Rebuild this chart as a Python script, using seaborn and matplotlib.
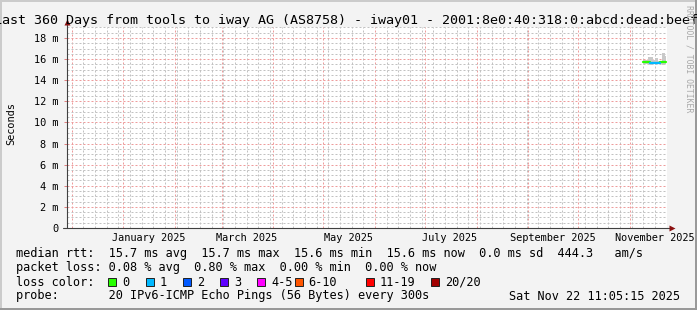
import numpy as np
import pandas as pd
import matplotlib
matplotlib.use("Agg")
import matplotlib.pyplot as plt
import matplotlib.dates as mdates
import matplotlib.ticker as mticker
import matplotlib.transforms as mtrans
from matplotlib.patches import Rectangle
import seaborn as sns

# ---------------- data ----------------
title = "Last 360 Days from tools to iway AG (AS8758) - iway01 - 2001:8e0:40:318:0:abcd:dead:beef"
range_start = "2024-11-28 05:00"
range_end = "2025-11-23 05:00"
now_stamp = "2025-11-22 11:05"

day_starts = pd.date_range("2025-11-09", periods=14, freq="D")
median_ms = [15.7, 15.7, 15.7, 15.7, 15.6, 15.6, 15.6, 15.6, 15.6, 15.6, 15.7, 15.7, 15.7, 15.7]
loss_cnt = [0, 0, 0, 0, 1, 1, 1, 1, 1, 1, 0, 0, 0, 0]
smoke_lo_ms = [15.5, 15.5, 15.5, 15.4, 15.4, 15.4, 15.5, 15.4, 15.5, 15.5, 15.5, 15.4, 15.4, 15.5]
smoke_hi_ms = [15.9, 15.9, 15.9, 16.2, 16.2, 16.2, 15.9, 16.1, 16.1, 15.85, 15.85, 16.55, 16.55, 16.3]

month_label_dates = ["2025-01-16", "2025-03-16", "2025-05-16", "2025-07-16", "2025-09-16", "2025-11-16"]
month_labels = ["January 2025", "March 2025", "May 2025", "July 2025", "September 2025", "November 2025"]

loss_keys = ["0", "1", "2", "3", "4-5", "6-10", "11-19", "20/20"]
loss_colors = ["#26ff00", "#00b8ff", "#0059ff", "#5e00ff", "#ff00ff", "#ff5500", "#ff0000", "#a10000"]
loss_box_x = [108.3, 145.7, 182.7, 220.0, 257.3, 294.7, 365.7, 431.0]

line_rtt = "median rtt:  15.7 ms avg  15.7 ms max  15.6 ms min  15.6 ms now  0.0 ms sd  444.3   am/s"
line_loss = "packet loss: 0.08 % avg  0.80 % max  0.00 % min  0.00 % now"
line_color = "loss color:"
line_probe = "probe:       20 IPv6-ICMP Echo Pings (56 Bytes) every 300s"
date_text = "Sat Nov 22 11:05:15 2025"

# ---------------- style ----------------
sns.set_theme(style="white")
plt.rcParams["font.family"] = ["DejaVu Sans Mono", "DejaVu Sans"]

W, H = 697, 310
fig = plt.figure(figsize=(W / 100, H / 100), dpi=100)
fig.patch.set_facecolor("#f3f3f3")

def fx(x):
    return x / W

def fy(y):
    return 1 - y / H

# frame
for (x0, y0, w, h, c) in [(0, 0, W, 2, "#cbcbcb"), (0, 0, 2, H, "#cbcbcb"),
                          (0, H - 2, W, 2, "#999999"), (W - 2, 0, 2, H, "#999999")]:
    fig.patches.append(Rectangle((fx(x0), fy(y0 + h)), w / W, h / H, transform=fig.transFigure,
                                 facecolor=c, edgecolor="none", zorder=0))

left, right, top, bottom = 67, 667, 27.4, 228
ax = fig.add_axes([fx(left), fy(bottom), (right - left) / W, (bottom - top) / H])
ax.set_facecolor("white")
for s in ax.spines.values():
    s.set_visible(False)

t0 = pd.Timestamp(range_start)
t1 = pd.Timestamp(range_end)

# smoke
t_end = [*day_starts[1:], pd.Timestamp(now_stamp)]
widths = [(e - s) for s, e in zip(day_starts, t_end)]
ax.bar(day_starts, np.array(smoke_hi_ms) / 1000 - np.array(smoke_lo_ms) / 1000,
       bottom=np.array(smoke_lo_ms) / 1000, width=widths, align="edge",
       color="#c9c9c9", edgecolor="none", zorder=2)

# median line colored by loss
rows = []
for i, (s, e, m, l) in enumerate(zip(day_starts, t_end, median_ms, loss_cnt)):
    key = loss_keys[l] if l < 4 else ("4-5" if l <= 5 else "6-10" if l <= 10 else "11-19" if l < 20 else "20/20")
    rows.append({"t": s, "v": m / 1000, "loss": key, "seg": i})
    rows.append({"t": e, "v": m / 1000, "loss": key, "seg": i})
df = pd.DataFrame(rows)
pal = dict(zip(loss_keys, loss_colors))
sns.lineplot(data=df, x="t", y="v", hue="loss", units="seg", estimator=None,
             palette={k: pal[k] for k in df["loss"].unique()}, linewidth=1.6,
             legend=False, ax=ax, zorder=3)
ax.set_xlabel("")
ax.set_ylabel("")
ax.set_xlim(t0, t1)
ax.set_ylim(0, 0.019)

# grids
ax.xaxis.set_major_locator(mdates.MonthLocator())
ax.xaxis.set_minor_locator(mdates.WeekdayLocator(byweekday=mdates.SU))
ax.xaxis.set_major_formatter(mticker.NullFormatter())
ax.xaxis.set_minor_formatter(mticker.NullFormatter())
ax.yaxis.set_major_locator(mticker.MultipleLocator(0.002))
ax.yaxis.set_minor_locator(mticker.MultipleLocator(0.0005))
ax.yaxis.set_major_formatter(mticker.FuncFormatter(lambda v, p: "0" if abs(v) < 1e-9 else f"{v*1000:.0f} m"))

ax.grid(False)
ax.grid(True, which="minor", axis="both", color="#c2c2c2", linestyle=(0, (2, 2)),
        linewidth=0.72, antialiased=True, snap=True)
ax.grid(True, which="major", axis="both", color="#ee9c9c", linestyle=(0, (2, 2)),
        linewidth=0.72, antialiased=True, snap=True)
ax.set_axisbelow(True)

ax.tick_params(axis="x", which="both", length=0)
ax.tick_params(axis="y", which="major", length=2.5, width=0.72, color="#e08080", pad=3.5,
               labelsize=7.4, labelcolor="black", left=True, direction="out")
ax.tick_params(axis="y", which="minor", length=0)

# axis lines and arrows
axis_col = "#404040"
ax.plot([0, 0], [0, 1 + 5.5 / (bottom - top)], transform=ax.transAxes, color=axis_col,
        lw=0.8, clip_on=False, zorder=5)
ax.plot([-4 / 600, 1 + 4 / 600], [0, 0], transform=ax.transAxes, color=axis_col,
        lw=0.8, clip_on=False, zorder=5)
ax.plot([0], [1 + 5.5 / (bottom - top)], transform=ax.transAxes, marker="^", ms=4.5,
        color="#8b1010", clip_on=False, zorder=6, mec="none")
ax.plot([1 + 5 / 600], [0], transform=ax.transAxes, marker=">", ms=4.5,
        color="#8b1010", clip_on=False, zorder=6, mec="none")

# month labels
trans = mtrans.blended_transform_factory(ax.transData, fig.transFigure)
for d, lab in zip(month_label_dates, month_labels):
    ax.text(mdates.date2num(pd.Timestamp(d)), fy(241), lab, transform=trans, ha="center",
            va="baseline", fontsize=7.4, color="black", clip_on=False)

# title, y label, watermark
fig.text(fx(346), fy(24), title, ha="center", va="baseline", fontsize=9.63, color="black")
fig.text(fx(11), fy(124), "Seconds", rotation=90, ha="center", va="center", fontsize=7.4, color="black")
fig.text(fx(689), fy(5), "RRDTOOL / TOBI OETIKER", rotation=270, ha="center", va="top",
         fontsize=5.9, color="#a8a8a8")

# legend lines
lfs = 8.53
fig.text(fx(16), fy(257.5), line_rtt, ha="left", va="baseline", fontsize=lfs, color="black")
fig.text(fx(16), fy(271.5), line_loss, ha="left", va="baseline", fontsize=lfs, color="black")
fig.text(fx(16), fy(285.5), line_color, ha="left", va="baseline", fontsize=lfs, color="black")
fig.text(fx(16), fy(299.5), line_probe, ha="left", va="baseline", fontsize=lfs, color="black")
fig.text(fx(680), fy(299.5), date_text, ha="right", va="baseline", fontsize=lfs, color="black")

for bx, key, col in zip(loss_box_x, loss_keys, loss_colors):
    fig.patches.append(Rectangle((fx(bx), fy(286)), 8 / W, 8 / H, transform=fig.transFigure,
                                 facecolor=col, edgecolor="#202020", linewidth=0.7, zorder=3))
    fig.text(fx(bx + 14), fy(285.5), key, ha="left", va="baseline", fontsize=lfs, color="black")

fig.savefig("out.png", dpi=100, facecolor=fig.get_facecolor())
